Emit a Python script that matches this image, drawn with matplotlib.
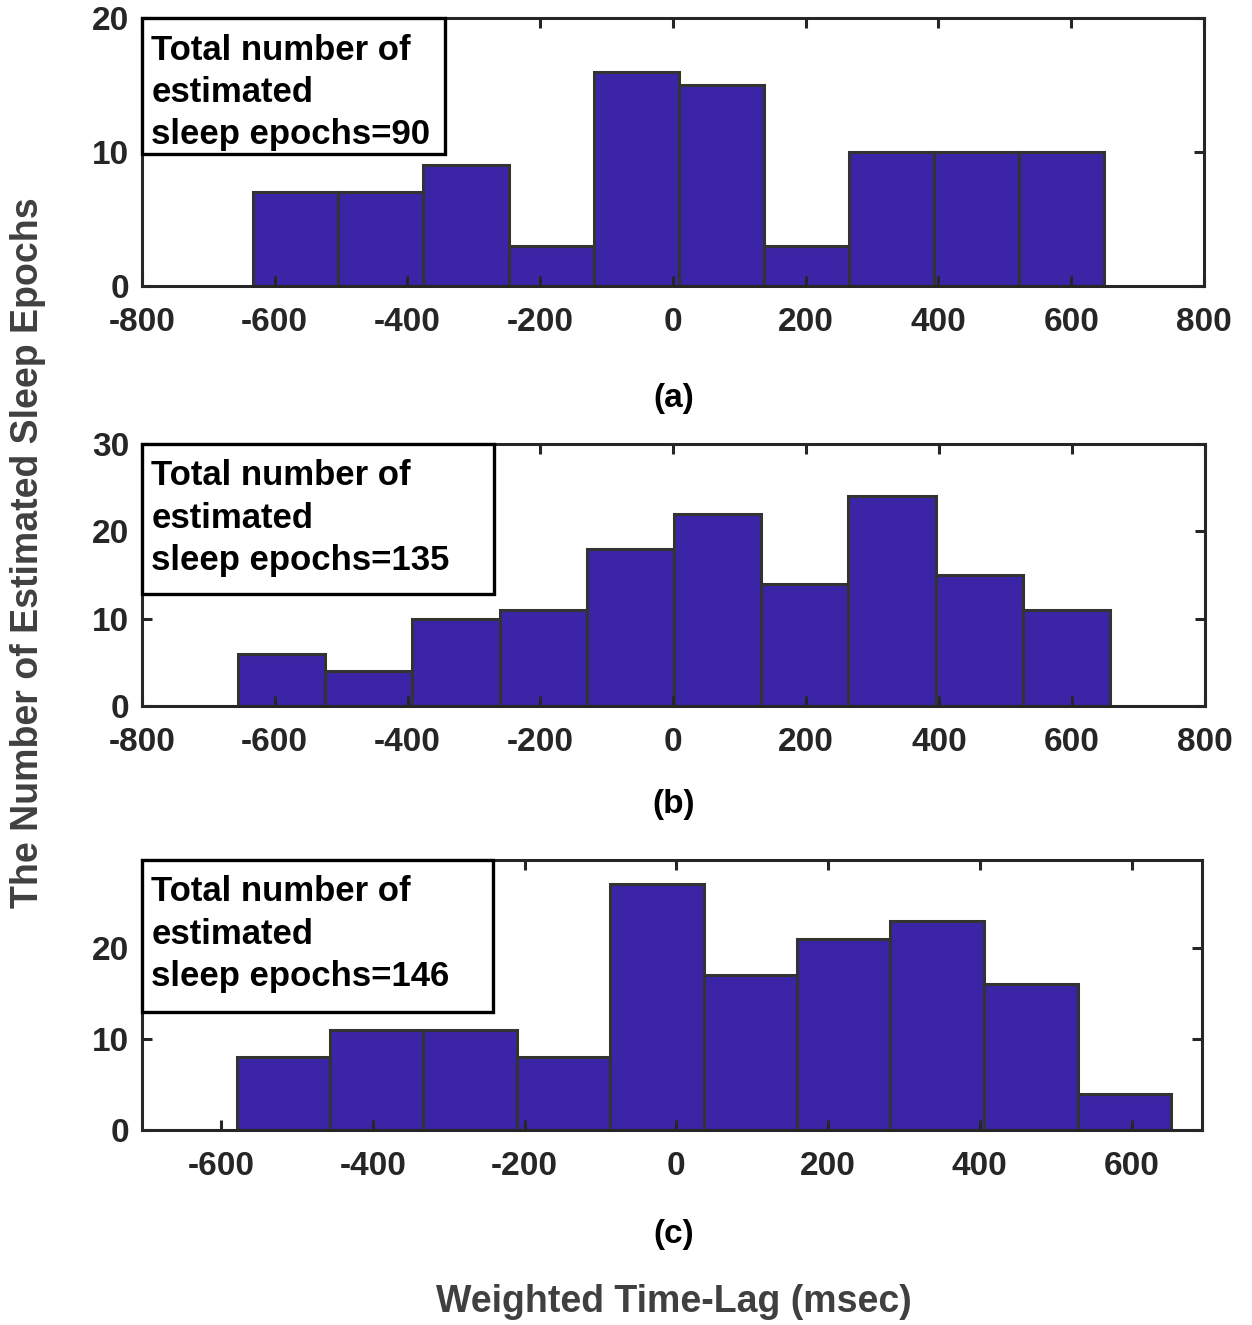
import matplotlib
matplotlib.use('Agg')
import matplotlib.pyplot as plt
from matplotlib.patches import Rectangle
import numpy as np

plt.rcParams['font.family'] = ['Liberation Sans', 'DejaVu Sans']
plt.rcParams['font.weight'] = 'bold'
plt.rcParams['axes.unicode_minus'] = False

# histogram bin edges (msec) and counts for the three recordings
edges_a = [-632, -504, -376, -247, -119, 9, 137, 265, 394, 522, 650]
counts_a = [7, 7, 9, 3, 16, 15, 3, 10, 10, 10]

edges_b = [-655, -524, -393, -261, -130, 1, 132, 263, 395, 526, 657]
counts_b = [6, 4, 10, 11, 18, 22, 14, 24, 15, 11]

edges_c = [-580, -457, -334, -210, -87, 36, 159, 282, 406, 529, 652]
counts_c = [8, 11, 11, 8, 27, 17, 21, 23, 16, 4]

panel_labels = ['(a)', '(b)', '(c)']

xlims = [(-800, 800), (-800, 800), (-705, 693)]
ylims = [(0, 20), (0, 30), (0, 29.7)]
xticks = [np.arange(-800, 801, 200), np.arange(-800, 801, 200),
          np.arange(-600, 601, 200)]
yticks = [[0, 10, 20], [0, 10, 20, 30], [0, 10, 20]]

# axes rectangles in figure fractions
positions = [
    [0.1132, 0.7844, 0.8485, 0.2018],
    [0.1132, 0.4672, 0.8493, 0.1977],
    [0.1132, 0.1472, 0.8469, 0.2038],
]
# size of the annotation box (axes fraction)
box_sizes = [(0.2855, 0.5075), (0.331, 0.5725), (0.331, 0.563)]
label_y = [1 - 398 / 1325, 1 - 805 / 1325, 1 - 1234 / 1325]

BAR_COLOR = '#3B25A6'
EDGE_COLOR = '#333333'
AXIS_COLOR = '#262626'


def plot_panel(fig, pos, edges, counts, xlim, ylim, xt, yt, box_size):
    ax = fig.add_axes(pos)
    edges = np.asarray(edges, dtype=float)
    ax.bar(edges[:-1], counts, width=np.diff(edges), align='edge',
           color=BAR_COLOR, edgecolor=EDGE_COLOR, linewidth=2.2)

    ax.set_xlim(*xlim)
    ax.set_ylim(*ylim)
    ax.set_xticks(xt)
    ax.set_yticks(yt)
    ax.tick_params(direction='in', length=7, width=2.2, top=True,
                   right=True, labelsize=24, colors=AXIS_COLOR)
    ax.tick_params(axis='x', pad=15)
    ax.tick_params(axis='y', pad=9)
    for tl in ax.get_xticklabels() + ax.get_yticklabels():
        tl.set_fontweight('bold')
    for sp in ax.spines.values():
        sp.set_linewidth(2.2)
        sp.set_color(AXIS_COLOR)

    total = int(np.sum(counts))
    w, h = box_size
    ax.add_patch(Rectangle((0, 1 - h), w, h, transform=ax.transAxes,
                           facecolor='white', edgecolor='black',
                           linewidth=2.4, zorder=5, clip_on=False))
    ax.annotate('Total number of\nestimated\nsleep epochs={0}'.format(total),
                xy=(0, 1), xycoords='axes fraction',
                xytext=(7, -11), textcoords='offset points',
                ha='left', va='top', fontsize=25, fontweight='bold',
                color='black', linespacing=1.36, zorder=6)
    return ax


def main():
    fig = plt.figure(figsize=(12.52, 13.25), dpi=100)

    data = [(edges_a, counts_a), (edges_b, counts_b), (edges_c, counts_c)]
    for i, (edges, counts) in enumerate(data):
        plot_panel(fig, positions[i], edges, counts, xlims[i], ylims[i],
                   xticks[i], yticks[i], box_sizes[i])
        fig.text(0.538, label_y[i], panel_labels[i], ha='center',
                 va='center', fontsize=24, fontweight='bold', color='black')

    fig.text(0.022, 0.583, 'The Number of Estimated Sleep Epochs',
             rotation=90, ha='center', va='center', fontsize=27,
             fontweight='bold', color='#404040')
    fig.text(0.538, 1 - 1302 / 1325, 'Weighted Time-Lag (msec)',
             ha='center', va='center', fontsize=27, fontweight='bold',
             color='#404040')

    fig.savefig('out.png', dpi=100)
    plt.close(fig)


if __name__ == '__main__':
    main()
